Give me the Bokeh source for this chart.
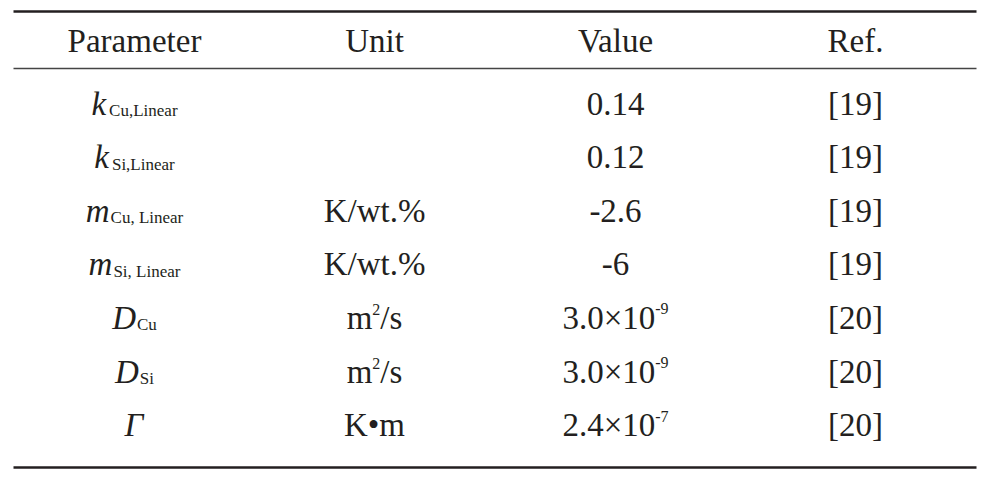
from bokeh.plotting import figure
from bokeh.models import Range1d
from bokeh.core.properties import value
from bokeh.embed import file_html
from bokeh.resources import INLINE

# ---- table content ----
headers = ["Parameter", "Unit", "Value", "Ref."]
param_symbols = ["k", "k", "m", "m", "D", "D", "Γ"]
param_subs = ["Cu,Linear", "Si,Linear", "Cu, Linear", "Si, Linear", "Cu", "Si", ""]
unit_base = ["", "", "K/wt.%", "K/wt.%", "m", "m", "K•m"]
unit_sup = ["", "", "", "", "2", "2", ""]
unit_tail = ["", "", "", "", "/s", "/s", ""]
value_mantissa = ["0.14", "0.12", "-2.6", "-6", "3.0×10", "3.0×10", "2.4×10"]
value_exp = ["", "", "", "", "-9", "-9", "-7"]
refs = ["[19]", "[19]", "[19]", "[19]", "[20]", "[20]", "[20]"]

# ---- layout (page pixel coordinates) ----
FONT = "Liberation Serif"
COLOR = "#231f20"
FS = 33          # main font size px
FS_SUB = 17      # subscript size px
FS_SUP = 16      # value exponent size px
FS_USUP = 16     # unit superscript size px
col_x = [134, 374, 615, 855]
K_BASE = 0.27    # renderer baseline offset, fraction of font size
header_base = 49
row_base0 = 112
row_step = 53.6
x_left, x_right = 13, 976
top_rule_y, mid_rule_y, bot_rule_y = 11, 68, 467

# approximate Times glyph advance widths (per em) to centre composite cells
W = {"0": .5, "1": .5, "2": .5, "3": .5, "4": .5, "5": .5, "6": .5, "7": .5,
     "8": .5, "9": .5, ".": .25, "×": .564, "-": .333, "C": .667, "u": .5,
     ",": .25, "L": .611, "i": .278, "n": .5, "e": .444, "a": .444, "r": .333,
     "S": .556, " ": .25, "m": .778, "/": .278, "s": .389, "K": .722,
     "w": .722, "t": .278, "%": .833, "•": .35}
W_IT = {"k": .444, "m": .722, "D": .722, "Γ": .611}


def tw(s, size):
    return sum(W.get(c, .5) for c in s) * size


def ypos(baseline, size):
    return baseline - K_BASE * size


p = figure(width=984, height=469, output_backend="svg", toolbar_location=None,
           x_range=Range1d(0, 984), y_range=Range1d(469, 0),
           x_axis_location=None, y_axis_location=None, min_border=0)
p.outline_line_color = None
p.grid.visible = False
p.background_fill_color = "white"
p.border_fill_color = "white"

n = len(param_symbols)
row_base = [row_base0 + i * row_step for i in range(n)]
row_y = [ypos(b, FS) for b in row_base]

# rules
p.segment(x0=[x_left], y0=[top_rule_y], x1=[x_right], y1=[top_rule_y],
          line_color=COLOR, line_width=2.5)
p.segment(x0=[x_left], y0=[mid_rule_y], x1=[x_right], y1=[mid_rule_y],
          line_color="#444444", line_width=1.4)
p.segment(x0=[x_left], y0=[bot_rule_y], x1=[x_right], y1=[bot_rule_y],
          line_color=COLOR, line_width=2.5)

common = dict(text_font=value(FONT), text_color=COLOR, text_baseline="alphabetic")

# header
p.text(x=col_x, y=[ypos(header_base, FS)] * 4, text=headers, text_align="center",
       text_font_size=f"{FS}px", **common)

# parameter column: italic symbol + subscript
sym_x, sub_x, sub_y = [], [], []
for i, (s, sub) in enumerate(zip(param_symbols, param_subs)):
    gap = 3 if s == "k" else 1
    ws = W_IT[s] * FS
    wsub = tw(sub, FS_SUB) + (gap if sub else 0)
    start = col_x[0] - (ws + wsub) / 2
    sym_x.append(start)
    sub_x.append(start + ws + gap)
    sub_y.append(ypos(row_base[i] + 2.5, FS_SUB))
p.text(x=sym_x, y=row_y, text=param_symbols, text_align="left",
       text_font_size=f"{FS}px", text_font_style="italic", **common)
p.text(x=sub_x, y=sub_y, text=param_subs, text_align="left",
       text_font_size=f"{FS_SUB}px", **common)

# unit column: base + optional superscript + tail
ub_x, us_x, ut_x, us_y = [], [], [], []
for i, (b, s, t) in enumerate(zip(unit_base, unit_sup, unit_tail)):
    wb, ws, wt = tw(b, FS), tw(s, FS_USUP), tw(t, FS)
    start = col_x[1] - (wb + ws + wt) / 2
    ub_x.append(start)
    us_x.append(start + wb)
    ut_x.append(start + wb + ws)
    us_y.append(row_y[i] - 8)
p.text(x=ub_x, y=row_y, text=unit_base, text_align="left",
       text_font_size=f"{FS}px", **common)
p.text(x=us_x, y=us_y, text=unit_sup, text_align="left",
       text_font_size=f"{FS_USUP}px", **common)
p.text(x=ut_x, y=row_y, text=unit_tail, text_align="left",
       text_font_size=f"{FS}px", **common)

# value column: mantissa + superscript exponent
man_x, exp_x, exp_y = [], [], []
for i, (m, e) in enumerate(zip(value_mantissa, value_exp)):
    wm = tw(m, FS)
    we = tw(e, FS_SUP)
    start = col_x[2] - (wm + we) / 2
    man_x.append(start)
    exp_x.append(start + wm)
    exp_y.append(row_y[i] - 9)
p.text(x=man_x, y=row_y, text=value_mantissa, text_align="left",
       text_font_size=f"{FS}px", **common)
p.text(x=exp_x, y=exp_y, text=value_exp, text_align="left",
       text_font_size=f"{FS_SUP}px", **common)

# ref column
p.text(x=[col_x[3]] * n, y=row_y, text=refs, text_align="center",
       text_font_size=f"{FS}px", **common)

open("out.html", "w").write(file_html(p, INLINE))
